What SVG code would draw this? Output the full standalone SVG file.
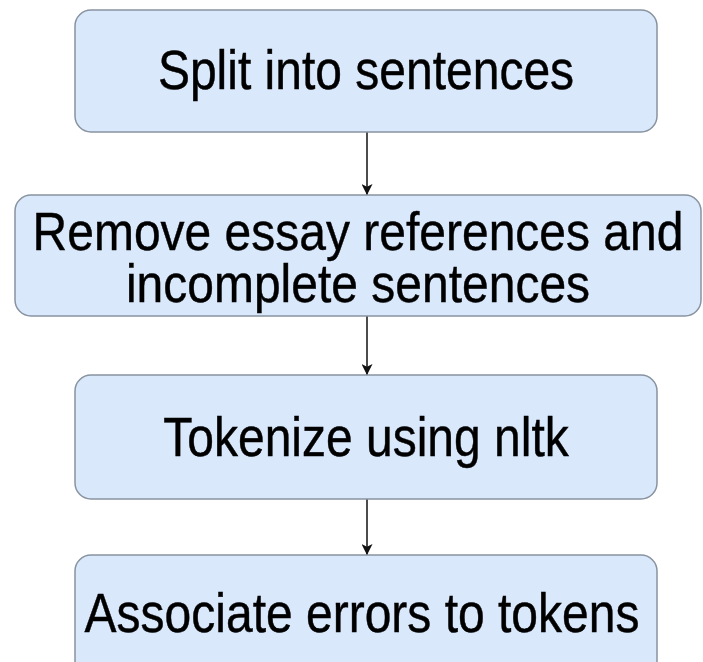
<svg xmlns="http://www.w3.org/2000/svg" width="703" height="662" viewBox="0 0 703 662">
  <style>
    .box { fill: #dae8fc; stroke: #8893a0; stroke-width: 1.5; }
    .label { font-family: "Liberation Sans", Arial, Helvetica, sans-serif; font-size: 48px; fill: #000; stroke: #000; stroke-width: 0.4; text-anchor: middle; }
    .edge { stroke: #111; stroke-width: 1.5; fill: none; }
  </style>
  <defs>
    <marker id="arrow" viewBox="0 0 12 12" refX="12" refY="6" markerWidth="12" markerHeight="11" markerUnits="userSpaceOnUse" orient="auto">
      <path d="M0,0 L12,6 L0,12 L3,6 Z" fill="#111"/>
    </marker>
  </defs>
  <rect width="703" height="662" fill="#ffffff"/>

  <g id="connectors">
    <line class="edge" x1="367" y1="132" x2="367" y2="195" marker-end="url(#arrow)"/>
    <line class="edge" x1="367" y1="316" x2="367" y2="375" marker-end="url(#arrow)"/>
    <line class="edge" x1="367" y1="499" x2="367" y2="555" marker-end="url(#arrow)"/>
  </g>

  <g id="split">
    <rect class="box" x="75" y="10" width="582" height="122" rx="16"/>
    <text class="label" transform="translate(366 89) scale(1 1.15)">Split into sentences</text>
  </g>

  <g id="remove">
    <rect class="box" x="15" y="195" width="686" height="121" rx="16"/>
    <text class="label" transform="translate(358 250) scale(1 1.12)">Remove essay references and</text>
    <text class="label" transform="translate(358 302) scale(1 1.12)">incomplete sentences</text>
  </g>

  <g id="tokenize">
    <rect class="box" x="75" y="375" width="582" height="124" rx="16"/>
    <text class="label" transform="translate(366 456) scale(1 1.15)">Tokenize using nltk</text>
  </g>

  <g id="associate">
    <rect class="box" x="75" y="555" width="582" height="130" rx="16"/>
    <text class="label" transform="translate(362 632) scale(1 1.15)">Associate errors to tokens</text>
  </g>
</svg>
